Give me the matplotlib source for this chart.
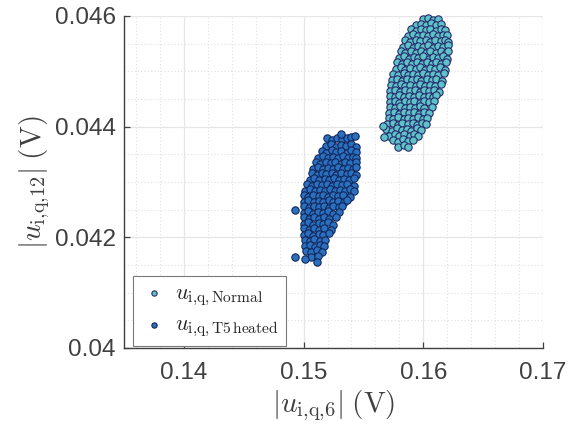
import matplotlib
matplotlib.use("Agg")
import matplotlib.pyplot as plt
from matplotlib.ticker import MultipleLocator

plt.rcParams['mathtext.fontset'] = 'cm'
plt.rcParams['font.family'] = ['Liberation Sans', 'DejaVu Sans']

# ---------------- data ----------------
normal_x = [
    0.16000, 0.16040, 0.16085, 0.16125,
    0.15940, 0.15985, 0.16025, 0.16065, 0.16110, 0.16150,
    0.15895, 0.15935, 0.15980, 0.16020, 0.16060, 0.16105, 0.16145, 0.16185,
    0.15870, 0.15915, 0.15955, 0.16000, 0.16040, 0.16085, 0.16125, 0.16165, 0.16200,
    0.15850, 0.15890, 0.15935, 0.15975, 0.16020, 0.16060, 0.16100, 0.16145, 0.16185, 0.16210,
    0.15830, 0.15870, 0.15915, 0.15955, 0.16000, 0.16040, 0.16080, 0.16125, 0.16165, 0.16205,
    0.15810, 0.15850, 0.15895, 0.15935, 0.15980, 0.16020, 0.16060, 0.16105, 0.16145, 0.16190, 0.16210,
    0.15800, 0.15840, 0.15880, 0.15920, 0.15960, 0.16000, 0.16045, 0.16085, 0.16125, 0.16165, 0.16200,
    0.15780, 0.15820, 0.15865, 0.15905, 0.15945, 0.15990, 0.16030, 0.16070, 0.16110, 0.16150, 0.16190,
    0.15770, 0.15810, 0.15850, 0.15890, 0.15935, 0.15975, 0.16015, 0.16060, 0.16100, 0.16140, 0.16180,
    0.15750, 0.15790, 0.15835, 0.15875, 0.15915, 0.15960, 0.16000, 0.16040, 0.16085, 0.16125, 0.16170,
    0.15740, 0.15780, 0.15820, 0.15860, 0.15905, 0.15945, 0.15985, 0.16030, 0.16070, 0.16110, 0.16160,
    0.15730, 0.15770, 0.15810, 0.15850, 0.15890, 0.15935, 0.15975, 0.16015, 0.16060, 0.16100, 0.16150,
    0.15720, 0.15760, 0.15805, 0.15845, 0.15885, 0.15930, 0.15970, 0.16010, 0.16050, 0.16090, 0.16130,
    0.15720, 0.15760, 0.15800, 0.15840, 0.15880, 0.15925, 0.15965, 0.16005, 0.16045, 0.16085, 0.16110,
    0.15720, 0.15760, 0.15800, 0.15845, 0.15885, 0.15925, 0.15970, 0.16010, 0.16050, 0.16090,
    0.15720, 0.15765, 0.15805, 0.15845, 0.15890, 0.15930, 0.15970, 0.16010, 0.16070,
    0.15715, 0.15755, 0.15800, 0.15840, 0.15880, 0.15920, 0.15965, 0.16005, 0.16050,
    0.15710, 0.15750, 0.15790, 0.15835, 0.15875, 0.15915, 0.15960, 0.16000, 0.16035,
    0.15700, 0.15745, 0.15785, 0.15825, 0.15870, 0.15910, 0.15950, 0.15990, 0.16020,
    0.15690, 0.15735, 0.15780, 0.15820, 0.15860, 0.15900, 0.15945, 0.15985,
    0.15715, 0.15760, 0.15800, 0.15840, 0.15885, 0.15925, 0.15960,
    0.15750, 0.15790, 0.15830, 0.15875, 0.15915,
    0.15790, 0.15835, 0.15875,
    0.15665, 0.15675,
]
normal_y = [
    0.04594, 0.04596, 0.04592, 0.04595,
    0.04583, 0.04586, 0.04584, 0.04587, 0.04583, 0.04586,
    0.04576, 0.04573, 0.04577, 0.04574, 0.04576, 0.04573, 0.04577, 0.04575,
    0.04564, 0.04567, 0.04563, 0.04566, 0.04564, 0.04567, 0.04563, 0.04566, 0.04565,
    0.04556, 0.04553, 0.04557, 0.04554, 0.04556, 0.04553, 0.04557, 0.04554, 0.04556, 0.04553,
    0.04544, 0.04547, 0.04543, 0.04546, 0.04544, 0.04547, 0.04543, 0.04546, 0.04544, 0.04547,
    0.04536, 0.04533, 0.04537, 0.04534, 0.04536, 0.04533, 0.04537, 0.04534, 0.04536, 0.04533, 0.04537,
    0.04524, 0.04527, 0.04523, 0.04526, 0.04524, 0.04527, 0.04523, 0.04526, 0.04524, 0.04527, 0.04523,
    0.04516, 0.04513, 0.04517, 0.04514, 0.04516, 0.04513, 0.04517, 0.04514, 0.04516, 0.04513, 0.04517,
    0.04504, 0.04507, 0.04503, 0.04506, 0.04504, 0.04507, 0.04503, 0.04506, 0.04504, 0.04507, 0.04503,
    0.04496, 0.04493, 0.04497, 0.04494, 0.04496, 0.04493, 0.04497, 0.04494, 0.04496, 0.04493, 0.04497,
    0.04484, 0.04487, 0.04483, 0.04486, 0.04484, 0.04487, 0.04483, 0.04486, 0.04484, 0.04487, 0.04483,
    0.04476, 0.04473, 0.04477, 0.04474, 0.04476, 0.04473, 0.04477, 0.04474, 0.04476, 0.04473, 0.04477,
    0.04464, 0.04467, 0.04463, 0.04466, 0.04464, 0.04467, 0.04463, 0.04466, 0.04464, 0.04467, 0.04463,
    0.04456, 0.04453, 0.04457, 0.04454, 0.04456, 0.04453, 0.04457, 0.04454, 0.04456, 0.04453, 0.04457,
    0.04444, 0.04447, 0.04443, 0.04446, 0.04444, 0.04447, 0.04443, 0.04446, 0.04444, 0.04447,
    0.04436, 0.04433, 0.04437, 0.04434, 0.04436, 0.04433, 0.04437, 0.04434, 0.04436,
    0.04424, 0.04427, 0.04423, 0.04426, 0.04424, 0.04427, 0.04423, 0.04426, 0.04424,
    0.04416, 0.04413, 0.04417, 0.04414, 0.04416, 0.04413, 0.04417, 0.04414, 0.04416,
    0.04404, 0.04407, 0.04403, 0.04406, 0.04404, 0.04407, 0.04403, 0.04406, 0.04404,
    0.04396, 0.04393, 0.04397, 0.04394, 0.04396, 0.04393, 0.04397, 0.04394,
    0.04384, 0.04387, 0.04383, 0.04386, 0.04384, 0.04387, 0.04383,
    0.04376, 0.04373, 0.04377, 0.04374, 0.04376,
    0.04364, 0.04367, 0.04363,
    0.04402, 0.04382,
]

heated_x = [
    0.15195, 0.15235, 0.15280, 0.15320, 0.15360, 0.15400, 0.15430,
    0.15190, 0.15230, 0.15270, 0.15315, 0.15355, 0.15395, 0.15440,
    0.15150, 0.15190, 0.15235, 0.15275, 0.15315, 0.15360, 0.15400, 0.15440,
    0.15120, 0.15165, 0.15205, 0.15245, 0.15290, 0.15330, 0.15370, 0.15415, 0.15440,
    0.15100, 0.15140, 0.15185, 0.15225, 0.15265, 0.15310, 0.15350, 0.15390, 0.15435,
    0.15080, 0.15120, 0.15160, 0.15205, 0.15245, 0.15285, 0.15330, 0.15370, 0.15410, 0.15440,
    0.15070, 0.15110, 0.15150, 0.15190, 0.15235, 0.15275, 0.15315, 0.15360, 0.15400, 0.15440,
    0.15050, 0.15090, 0.15130, 0.15175, 0.15215, 0.15255, 0.15300, 0.15340, 0.15380, 0.15425,
    0.15030, 0.15070, 0.15115, 0.15155, 0.15195, 0.15240, 0.15280, 0.15320, 0.15365, 0.15425,
    0.15010, 0.15055, 0.15095, 0.15135, 0.15180, 0.15220, 0.15260, 0.15305, 0.15345, 0.15385, 0.15420,
    0.15000, 0.15040, 0.15080, 0.15125, 0.15165, 0.15205, 0.15250, 0.15290, 0.15330, 0.15390,
    0.15000, 0.15040, 0.15085, 0.15125, 0.15165, 0.15210, 0.15250, 0.15290, 0.15335, 0.15360,
    0.15000, 0.15045, 0.15085, 0.15125, 0.15170, 0.15210, 0.15250, 0.15295, 0.15320,
    0.15000, 0.15040, 0.15080, 0.15120, 0.15165, 0.15205, 0.15245, 0.15300,
    0.15000, 0.15045, 0.15085, 0.15125, 0.15170, 0.15210, 0.15270,
    0.15000, 0.15040, 0.15080, 0.15125, 0.15165, 0.15205, 0.15250,
    0.15000, 0.15045, 0.15085, 0.15125, 0.15170, 0.15230,
    0.15000, 0.15040, 0.15080, 0.15125, 0.15165, 0.15210,
    0.15010, 0.15050, 0.15090, 0.15135, 0.15180,
    0.15010, 0.15055, 0.15095, 0.15135, 0.15170,
    0.15020, 0.15065, 0.15110, 0.15155,
    0.15060, 0.15120,
    0.15310, 0.14925, 0.14925, 0.15010, 0.15110,
]
heated_y = [
    0.04379, 0.04376, 0.04380, 0.04377, 0.04379, 0.04381, 0.04383,
    0.04365, 0.04368, 0.04364, 0.04367, 0.04365, 0.04368, 0.04364,
    0.04356, 0.04353, 0.04357, 0.04354, 0.04356, 0.04353, 0.04357, 0.04354,
    0.04344, 0.04347, 0.04343, 0.04346, 0.04344, 0.04347, 0.04343, 0.04346, 0.04344,
    0.04336, 0.04333, 0.04337, 0.04334, 0.04336, 0.04333, 0.04337, 0.04334, 0.04336,
    0.04324, 0.04327, 0.04323, 0.04326, 0.04324, 0.04327, 0.04323, 0.04326, 0.04324, 0.04327,
    0.04316, 0.04313, 0.04317, 0.04314, 0.04316, 0.04313, 0.04317, 0.04314, 0.04316, 0.04313,
    0.04304, 0.04307, 0.04303, 0.04306, 0.04304, 0.04307, 0.04303, 0.04306, 0.04304, 0.04307,
    0.04296, 0.04293, 0.04297, 0.04294, 0.04296, 0.04293, 0.04297, 0.04294, 0.04296, 0.04293,
    0.04284, 0.04287, 0.04283, 0.04286, 0.04284, 0.04287, 0.04283, 0.04286, 0.04284, 0.04287, 0.04283,
    0.04276, 0.04273, 0.04277, 0.04274, 0.04276, 0.04273, 0.04277, 0.04274, 0.04276, 0.04273,
    0.04264, 0.04267, 0.04263, 0.04266, 0.04264, 0.04267, 0.04263, 0.04266, 0.04264, 0.04267,
    0.04256, 0.04253, 0.04257, 0.04254, 0.04256, 0.04253, 0.04257, 0.04254, 0.04256,
    0.04244, 0.04247, 0.04243, 0.04246, 0.04244, 0.04247, 0.04243, 0.04246,
    0.04236, 0.04233, 0.04237, 0.04234, 0.04236, 0.04233, 0.04237,
    0.04224, 0.04227, 0.04223, 0.04226, 0.04224, 0.04227, 0.04223,
    0.04216, 0.04213, 0.04217, 0.04214, 0.04216, 0.04213,
    0.04204, 0.04207, 0.04203, 0.04206, 0.04204, 0.04207,
    0.04196, 0.04193, 0.04197, 0.04194, 0.04196,
    0.04184, 0.04187, 0.04183, 0.04186, 0.04184,
    0.04176, 0.04173, 0.04177, 0.04174,
    0.04164, 0.04167,
    0.04386, 0.04249, 0.04164, 0.04160, 0.04156,
]
assert len(normal_x) == len(normal_y), (len(normal_x), len(normal_y))
assert len(heated_x) == len(heated_y), (len(heated_x), len(heated_y))

labels = [r'$u_{\mathrm{i{,}q{,}\,Normal}}$', r'$u_{\mathrm{i{,}q{,}\,T5\,heated}}$']
x_ticks = [0.14, 0.15, 0.16, 0.17]
x_tick_labels = ['0.14', '0.15', '0.16', '0.17']
y_ticks = [0.040, 0.042, 0.044, 0.046]
y_tick_labels = ['0.04', '0.042', '0.044', '0.046']

# ---------------- figure ----------------
fig = plt.figure(figsize=(5.78, 4.25), dpi=100)
ax = fig.add_axes([124/578, 77/425, 419/578, 332/425])

axis_col = '#404040'
ax.scatter(normal_x, normal_y, s=28, facecolor='#5ec3c8', edgecolor='#272a6b',
           linewidth=0.8, label=labels[0], zorder=3, clip_on=False)
ax.scatter(heated_x, heated_y, s=28, facecolor='#2b6fbf', edgecolor='#10285c',
           linewidth=0.8, label=labels[1], zorder=3, clip_on=False)

ax.set_xlim(0.135, 0.17)
ax.set_ylim(0.040, 0.046)
ax.set_xticks(x_ticks)
ax.set_xticklabels(x_tick_labels)
ax.set_yticks(y_ticks)
ax.set_yticklabels(y_tick_labels)
ax.xaxis.set_minor_locator(MultipleLocator(0.002))
ax.yaxis.set_minor_locator(MultipleLocator(0.0005))

ax.grid(True, which='major', color='#e6e6e6', linewidth=0.9, linestyle='-', zorder=0)
ax.grid(True, which='minor', color='#e0e0e0', linewidth=0.8, linestyle=(0, (1, 2)), zorder=0)
ax.set_axisbelow(True)

for side in ['top', 'right']:
    ax.spines[side].set_visible(False)
for side in ['left', 'bottom']:
    ax.spines[side].set_color(axis_col)
    ax.spines[side].set_linewidth(1.0)

ax.tick_params(which='major', direction='in', length=4.5, width=0.9, color=axis_col,
               labelcolor=axis_col, labelsize=17.5)
ax.tick_params(axis='x', which='major', pad=10)
ax.tick_params(axis='y', which='major', pad=6)
ax.tick_params(which='minor', direction='in', length=0, color=axis_col)

ax.set_xlabel(r'$|u_{\mathrm{i{,}q{,}6}}|\;(\mathrm{V})$', fontsize=21, color=axis_col, labelpad=3)
ax.set_ylabel(r'$|u_{\mathrm{i{,}q{,}12}}|\;(\mathrm{V})$', fontsize=21, color=axis_col, labelpad=2)

leg = ax.legend(loc='lower left', bbox_to_anchor=(0.021, 0.006), borderaxespad=0,
                fontsize=16, frameon=True, fancybox=False, framealpha=1,
                edgecolor='#7a7a7a', markerscale=0.72, handletextpad=0.3,
                borderpad=0.3, labelspacing=0.3, handlelength=1.3)
leg.get_frame().set_linewidth(0.8)
for t in leg.get_texts():
    t.set_color('#262626')

fig.savefig('out.png', dpi=100)
